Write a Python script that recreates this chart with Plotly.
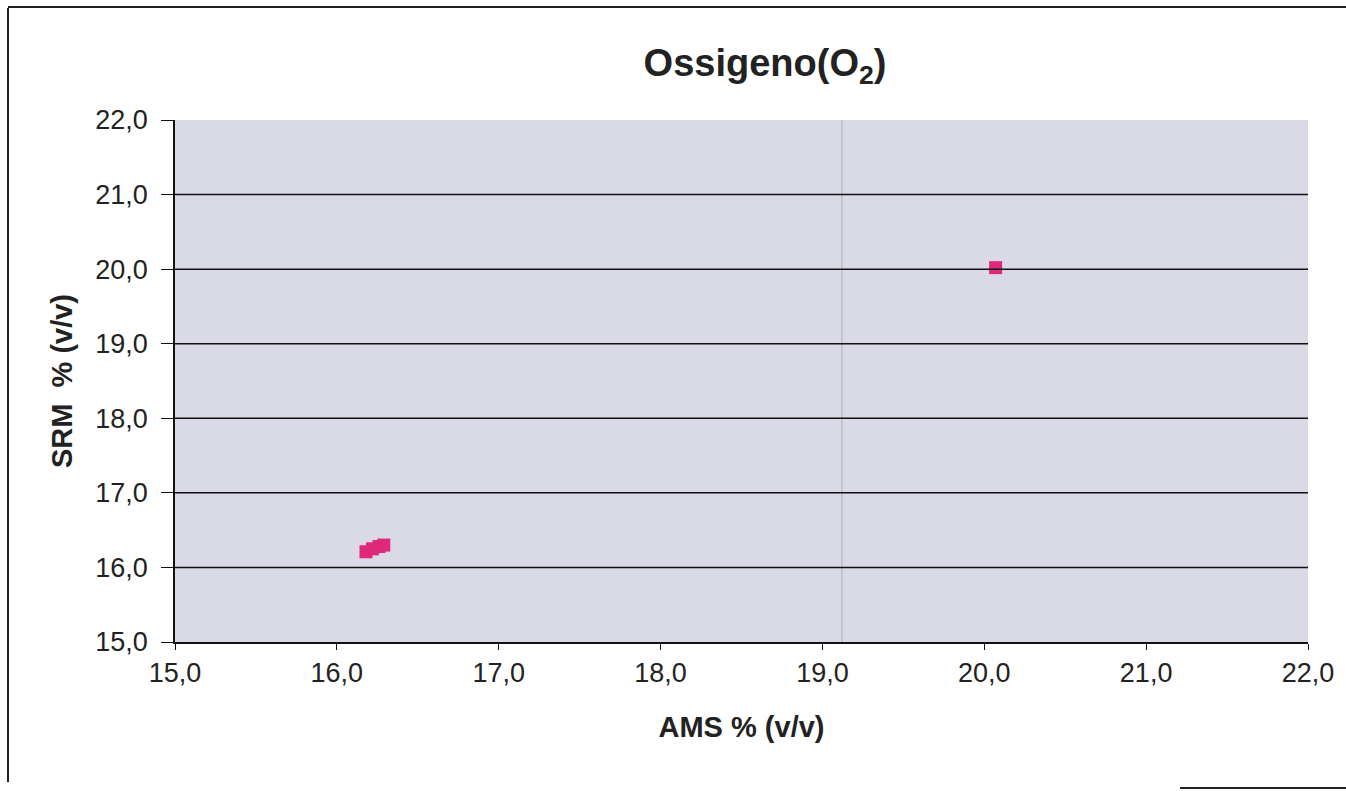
import plotly.graph_objects as go

ams = [16.18, 16.22, 16.26, 16.29, 20.07]
srm = [16.21, 16.25, 16.28, 16.30, 20.02]

x_ticks = [15, 16, 17, 18, 19, 20, 21, 22]
y_ticks = [15, 16, 17, 18, 19, 20, 21, 22]

W, H = 1346, 791
L, R, T, B = 175, 38, 120, 149
pw, ph = W - L - R, H - T - B

def px(x):
    return (x - L) / pw

def py(y):
    return (H - B - y) / ph

fig = go.Figure()
fig.add_trace(go.Scatter(
    x=ams, y=srm, mode="markers",
    marker=dict(symbol="square", size=13, color="#E0287A"),
    showlegend=False,
))

shapes = []
for v in y_ticks[1:-1]:
    shapes.append(dict(type="line", xref="x", yref="y", x0=15, x1=22, y0=v, y1=v,
                       line=dict(color="#111111", width=1.5), layer="above"))
shapes.append(dict(type="line", xref="x", yref="y", x0=19.12, x1=19.12, y0=15, y1=22,
                   line=dict(color="#BDBDC2", width=1.5), layer="below"))
frame = dict(color="#222222", width=2)
shapes.append(dict(type="line", xref="paper", yref="paper",
                   x0=px(8), x1=px(8), y0=py(8), y1=py(782), line=frame))
shapes.append(dict(type="line", xref="paper", yref="paper",
                   x0=px(8), x1=px(1346), y0=py(7), y1=py(7), line=frame))
shapes.append(dict(type="line", xref="paper", yref="paper",
                   x0=px(1180), x1=px(1346), y0=py(788), y1=py(788), line=frame))

fig.update_layout(
    width=W, height=H,
    margin=dict(l=L, r=R, t=T, b=B),
    paper_bgcolor="white",
    plot_bgcolor="#DADAE7",
    separators=",.",
    font=dict(family="Liberation Sans, Arial, sans-serif", color="#222222", size=27),
    title=dict(text="<b>Ossigeno(O<sub>2</sub>)</b>", x=765 / W, xanchor="center",
               y=1 - 63 / H, yanchor="middle", font=dict(size=38, color="#222222")),
    shapes=shapes,
    showlegend=False,
)
fig.update_xaxes(
    range=[15, 22], tickvals=x_ticks, tickformat=".1f",
    showgrid=False, zeroline=False,
    showline=True, linecolor="#111111", linewidth=1.5,
    ticks="outside", ticklen=6, tickcolor="#111111",
    title=dict(text="<b>AMS % (v/v)</b>", font=dict(size=29), standoff=30),
)
fig.update_yaxes(
    range=[15, 22], tickvals=y_ticks, tickformat=".1f",
    showgrid=False, zeroline=False,
    showline=True, linecolor="#111111", linewidth=1.5,
    ticks="outside", ticklen=12, tickcolor="#111111",
    ticklabelstandoff=8,
    title=dict(text="<b>SRM&nbsp;&nbsp;% (v/v)</b>", font=dict(size=29), standoff=14),
)

fig.write_html("out.html")
